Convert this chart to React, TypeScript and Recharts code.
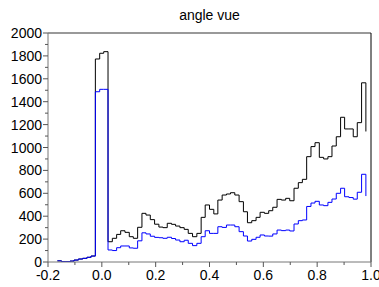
import React from "react";
import { LineChart, Line, XAxis, YAxis, ReferenceLine } from "recharts";

const binEdges = [
  -0.165, -0.15, -0.134, -0.118, -0.103, -0.087, -0.071, -0.055, -0.04,
  -0.024, -0.008, 0.007, 0.023, 0.039, 0.055, 0.07, 0.086, 0.102, 0.117,
  0.133, 0.149, 0.164, 0.18, 0.196, 0.212, 0.227, 0.243, 0.259, 0.274,
  0.29, 0.306, 0.321, 0.337, 0.353, 0.369, 0.384, 0.4, 0.416, 0.431,
  0.447, 0.463, 0.478, 0.494, 0.51, 0.526, 0.541, 0.557, 0.573, 0.588,
  0.604, 0.62, 0.635, 0.651, 0.667, 0.683, 0.698, 0.714, 0.73, 0.745,
  0.761, 0.777, 0.792, 0.808, 0.824, 0.84, 0.855, 0.871, 0.887, 0.902,
  0.918, 0.934, 0.949, 0.965, 0.981,
];

const blackSeries = [
  10, 3, 3, 8, 17, 26, 32, 41, 52,
  1773, 1823, 1837,
  177, 207, 241, 273, 259, 221, 207, 303, 425, 410, 370, 330,
  305, 300, 338, 329, 314, 300, 285, 250, 221, 250, 390, 498, 460, 420,
  541, 585, 594, 605, 585, 527, 439, 343, 361, 390, 434, 425,
  448, 478, 547, 541, 556, 535, 644, 693, 722, 920,
  1008, 1042, 914, 900, 920, 1013, 1094, 1264, 1162, 1162, 1094, 1217, 1565,
  1140,
];

const blueSeries = [
  10, 3, 3, 8, 17, 26, 32, 41, 52,
  1487, 1508, 1508,
  105, 100, 125, 140, 140, 123, 120, 185, 255, 245, 225, 215,
  212, 207, 216, 205, 192, 177, 190, 163, 143, 163, 221, 273, 250, 250,
  308, 302, 323, 323, 308, 265, 227, 183, 198, 216, 236, 227,
  226, 245, 279, 274, 279, 271, 332, 361, 367, 485,
  515, 530, 498, 492, 521, 550, 600, 644, 570, 563, 549, 609, 766,
  576,
];

const xTicks = [-0.2, -0.1, 0, 0.1, 0.2, 0.3, 0.4, 0.5, 0.6, 0.7, 0.8, 0.9, 1.0];
const xTickLabels = ["-0.2", "", "0.0", "", "0.2", "", "0.4", "", "0.6", "", "0.8", "", "1.0"];
const yTicks = [0, 100, 200, 300, 400, 500, 600, 700, 800, 900, 1000, 1100, 1200, 1300, 1400, 1500, 1600, 1700, 1800, 1900, 2000];
const yTickLabels = ["0", "", "200", "", "400", "", "600", "", "800", "", "1000", "", "1200", "", "1400", "", "1600", "", "1800", "", "2000"];

const data = binEdges.map((x, i) => ({ x, black: blackSeries[i], blue: blueSeries[i] }));

const FONT = "'Liberation Sans', Arial, sans-serif";

const XTick = (props: any) => {
  const { x, y, payload, index } = props;
  const label = xTickLabels[index] ?? "";
  const major = label !== "";
  return (
    <g>
      <line x1={x} y1={y} x2={x} y2={y + (major ? 5 : 3)} stroke="#555" />
      {major && (
        <text x={x} y={y + 18} textAnchor="middle" fontSize={14} fill="#000" fontFamily={FONT}>
          {label}
        </text>
      )}
    </g>
  );
};

const YTick = (props: any) => {
  const { x, y, index } = props;
  const label = yTickLabels[index] ?? "";
  const major = label !== "";
  return (
    <g>
      <line x1={x} y1={y} x2={x - (major ? 5 : 3)} y2={y} stroke="#555" />
      {major && (
        <text x={x - 6} y={y + 5} textAnchor="end" fontSize={14} fill="#000" fontFamily={FONT}>
          {label}
        </text>
      )}
    </g>
  );
};

export default function App() {
  return (
    <div style={{ position: "absolute", left: 0, top: 0, width: 379, height: 287, background: "#fff" }}>
      <div
        style={{
          position: "absolute",
          left: 0,
          top: 7,
          width: 419,
          textAlign: "center",
          fontFamily: FONT,
          fontSize: 14,
          lineHeight: "16px",
          color: "#000",
        }}
      >
        angle vue
      </div>
      <LineChart width={379} height={287} data={data} margin={{ top: 33, right: 8, bottom: 0, left: 0 }}>
        <XAxis
          dataKey="x"
          type="number"
          domain={[-0.2, 1.0]}
          ticks={xTicks}
          interval={0}
          height={25}
          tickSize={0}
          tickMargin={0}
          tickLine={false}
          tick={<XTick />}
          axisLine={{ stroke: "#777" }}
          allowDataOverflow
        />
        <YAxis
          type="number"
          domain={[0, 2000]}
          ticks={yTicks}
          interval={0}
          width={48}
          tickSize={0}
          tickMargin={0}
          tickLine={false}
          tick={<YTick />}
          axisLine={{ stroke: "#777" }}
          allowDataOverflow
        />
        <ReferenceLine y={2000} stroke="#777" strokeWidth={1.5} />
        <ReferenceLine x={1.0} stroke="#000" />
        <Line
          type="stepAfter"
          dataKey="black"
          stroke="#000"
          strokeWidth={1}
          dot={false}
          isAnimationActive={false}
        />
        <Line
          type="stepAfter"
          dataKey="blue"
          stroke="#0000ff"
          strokeWidth={1}
          dot={false}
          isAnimationActive={false}
        />
      </LineChart>
    </div>
  );
}
